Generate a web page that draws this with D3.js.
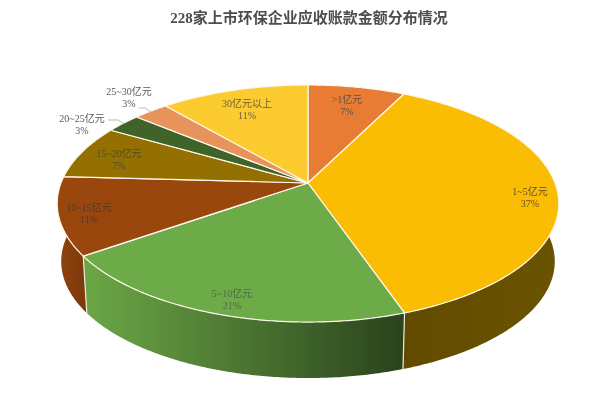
<!DOCTYPE html>
<html><head><meta charset="utf-8">
<script src="https://cdn.jsdelivr.net/npm/d3@7/dist/d3.min.js"></script>
<style>html,body{margin:0;padding:0;background:#fff}svg{display:block;filter:blur(0.4px)}text{font-family:"Liberation Serif","Noto Sans CJK SC",serif}</style>
</head><body><svg id="c" width="600" height="400"></svg>
<script>
const titleText = "228家上市环保企业应收账款金额分布情况";
const categories = [">1亿元","1~5亿元","5~10亿元","10~15亿元","15~20亿元","20~25亿元","25~30亿元","30亿元以上"];
const shares = [7.4,37.3,20.6,10.6,7.4,2.7,2.7,11.3];
const topColors = ["#E97C34","#FBBC04","#6CAB47","#9A470D","#947000","#3F6329","#E8935C","#FBCB30"];
const sideColors = ["#8E4B1D","url(#g1)","url(#g2)","url(#g3)","#5C4500","#283E1A","#8D5A3A","#977A1D"];
const labelAnchors = [[347,99],[530,191],[232,293],[89,207],[119,153],[82,118],[129,91],[247,103]];
const labelInk = ["#5c5045","#5f5230","#4f6b44","#4f3a28","#544a28","#595959","#595959","#6a5f38"];

const svg = d3.select("#c");
const defs = svg.append("defs");
function grad(id, x1, x2, c1, c2){
  const g = defs.append("linearGradient").attr("id",id).attr("gradientUnits","userSpaceOnUse")
    .attr("x1",x1).attr("x2",x2).attr("y1",0).attr("y2",0);
  g.append("stop").attr("offset",0).attr("stop-color",c1);
  g.append("stop").attr("offset",1).attr("stop-color",c2);
}
grad("g1",400,560,"#624B00","#6A5300");
grad("g2",88,403,"#6BA646","#2A431C");
grad("g3",58,90,"#8F420D","#7A3809");

// perspective projection of the pie's disc on to the page
const k = 0.173, A = 115, B = 247, apexX = 308, apexY = 183, apexB = 241.2, shrink = 0.984;
function project(a, r, bottom){
  const u = r*Math.sin(a), v = -r*Math.cos(a), d = 1 - k*v, s = bottom ? shrink : 1;
  return [apexX + s*B*u/d, (bottom ? apexB : apexY) + s*A*v/d];
}
const arcs = d3.pie().sort(null).value(d=>d)(shares);
const line = d3.line();
function rim(a0, a1, bottom){
  const n = Math.max(2, Math.ceil((a1-a0)/0.01));
  return d3.range(n+1).map(i=>project(a0+(a1-a0)*i/n,1,bottom));
}
const mid = d => -Math.cos((d.startAngle+d.endAngle)/2);
const order = d3.range(arcs.length).sort((i,j)=>mid(arcs[i])-mid(arcs[j]));

svg.append("g").selectAll("path").data(order).join("path")
  .attr("d", i=>{const t=rim(arcs[i].startAngle,arcs[i].endAngle,false),b=rim(arcs[i].startAngle,arcs[i].endAngle,true).reverse();
    return line(t.concat(b))+"Z";})
  .attr("fill", i=>sideColors[i]);

// boundary lines on the visible wall
svg.append("g").selectAll("path").data(arcs.filter(d=>Math.cos(d.startAngle)<0.05 && Math.abs(Math.sin(d.startAngle))>0 && d.startAngle<4.6)).join("path")
  .attr("d", d=>line([project(d.startAngle,1,false),project(d.startAngle,1,true)]))
  .attr("stroke","#E8EBDD").attr("stroke-width",1.2).attr("fill","none");

svg.append("g").selectAll("path").data(arcs).join("path")
  .attr("d", d=>line([[apexX,apexY]].concat(rim(d.startAngle,d.endAngle,false)))+"Z")
  .attr("fill",(d,i)=>topColors[i])
  .attr("stroke","#FFF9EC").attr("stroke-width",1.2).attr("stroke-linejoin","round");

// leader lines
const leaders = [[[108,120],[118,120],[124,124]],[[139,108],[145,108],[151,112]]];
svg.append("g").selectAll("path").data(leaders).join("path")
  .attr("d",d=>line(d)).attr("fill","none").attr("stroke","#A6A6A6").attr("stroke-width",0.8);

// labels
const lab = svg.append("g").attr("font-size",10).attr("text-anchor","middle");
categories.forEach((c,i)=>{
  const [x,y] = labelAnchors[i];
  lab.append("text").attr("x",x).attr("y",y+3.5).attr("fill",labelInk[i]).text(c);
  lab.append("text").attr("x",x).attr("y",y+16).attr("fill",labelInk[i]).text(Math.round(shares[i])+"%");
});
svg.append("text").attr("x",309).attr("y",23).attr("text-anchor","middle")
  .attr("font-size",15).attr("font-weight","bold").attr("fill","#4d4d4d").text(titleText);
</script></body></html>
